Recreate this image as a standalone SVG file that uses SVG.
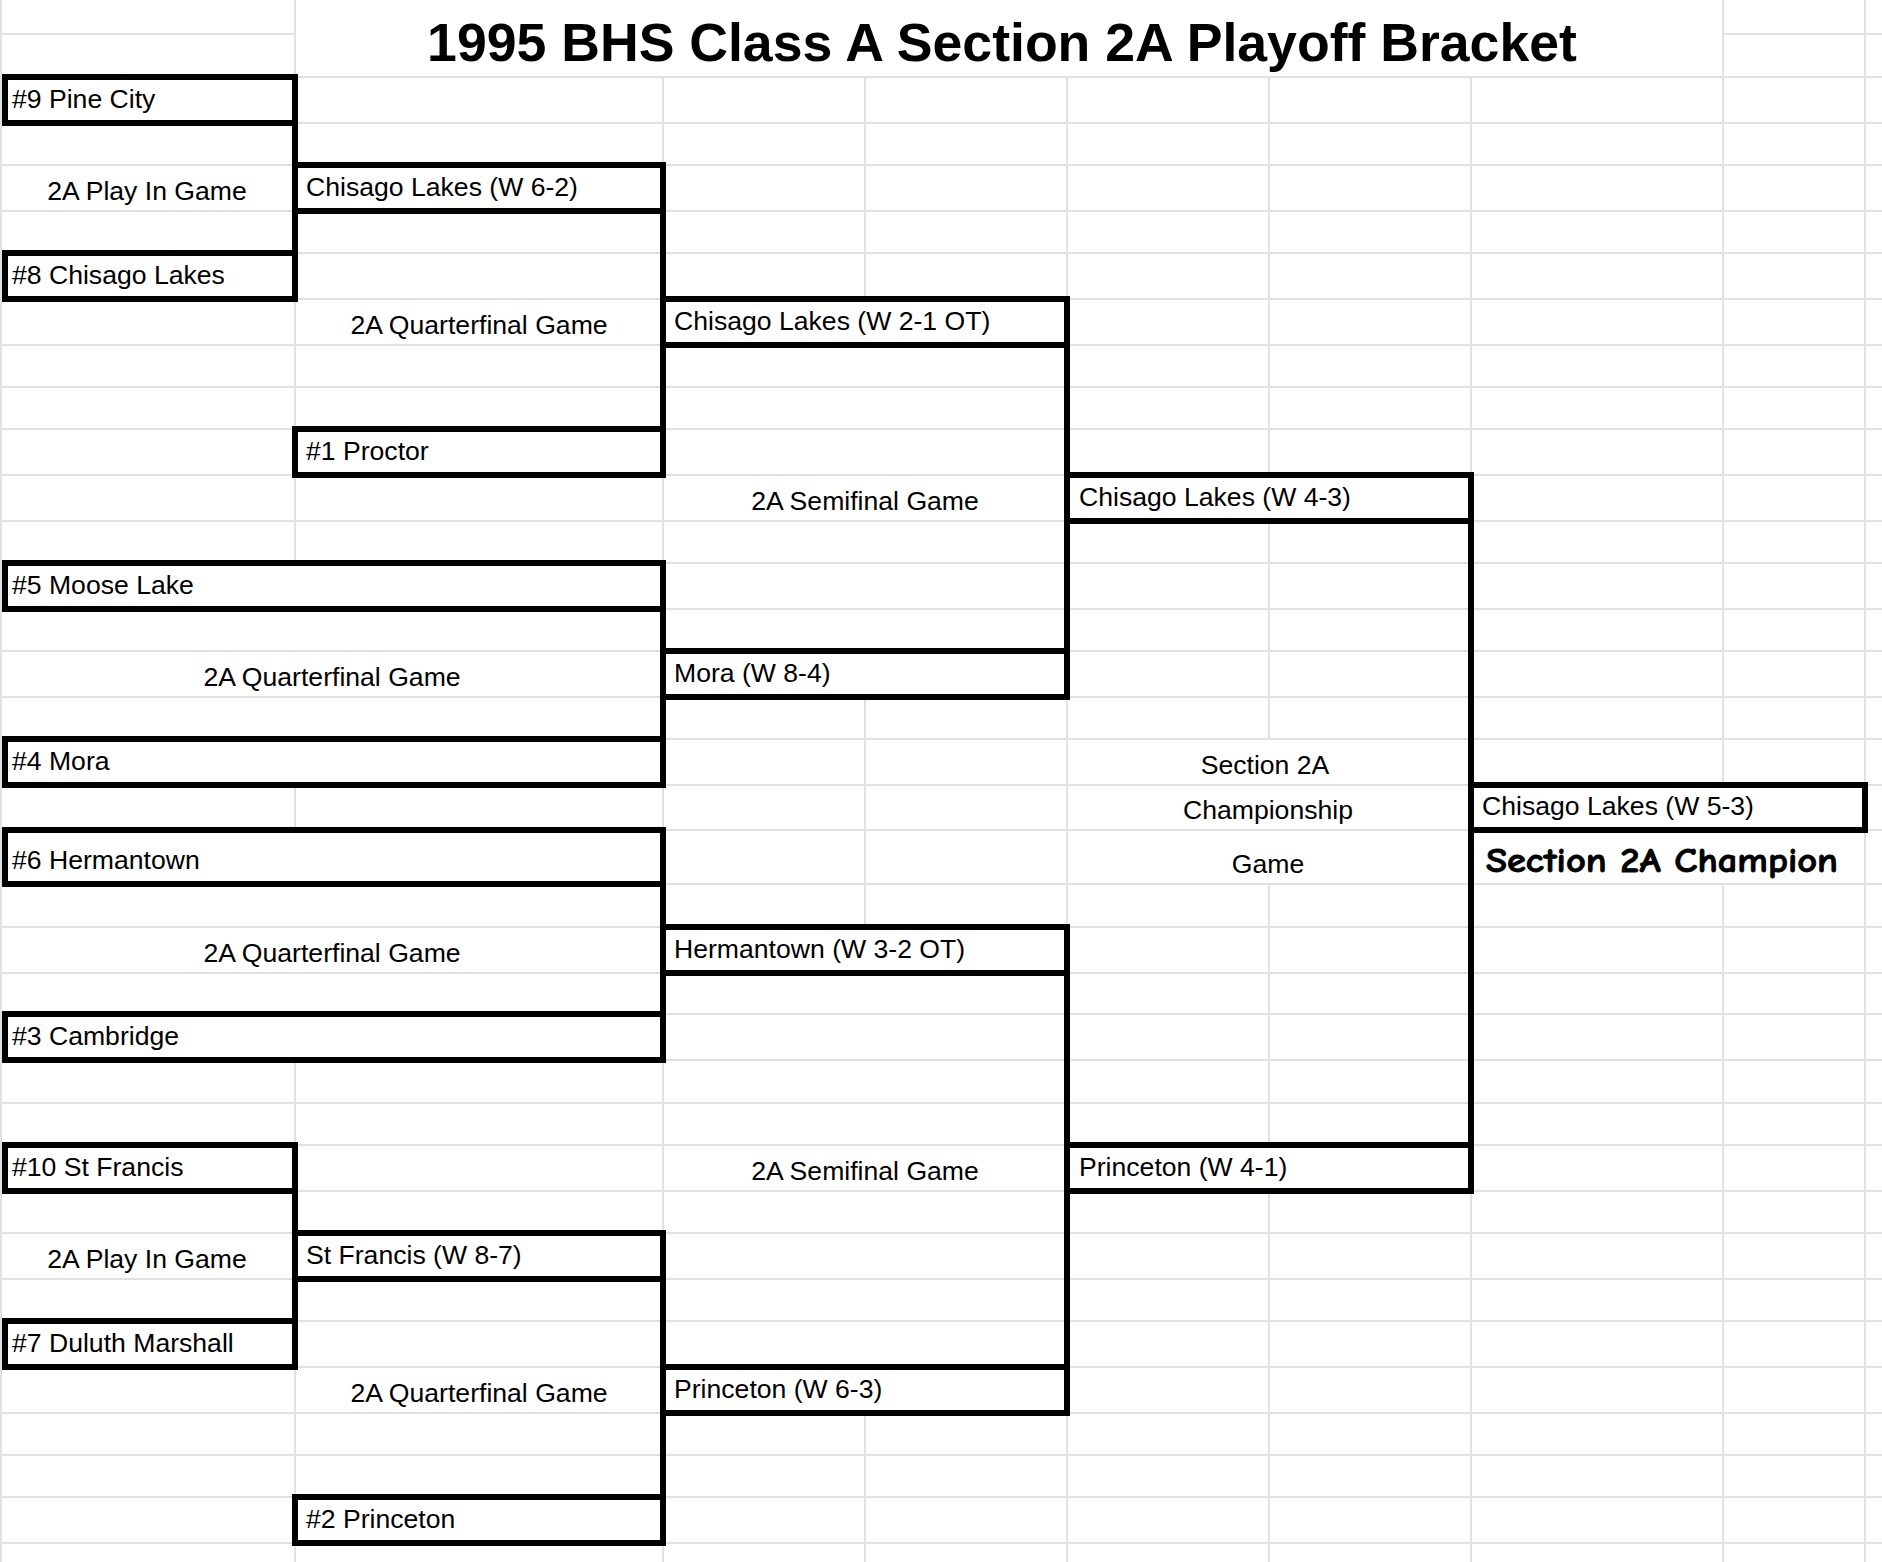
<svg xmlns="http://www.w3.org/2000/svg" width="1882" height="1562" viewBox="0 0 1882 1562">
<style>
.grid{stroke:#e1e1e1;stroke-width:2;fill:none}
.box{fill:none;stroke:#000;stroke-width:6}
.con{fill:none;stroke:#000;stroke-width:6}
.t{font-family:"Liberation Sans",Arial,Helvetica,sans-serif;font-size:26.6px;fill:#000}
.c{text-anchor:middle}
.title{font-family:"Liberation Sans",Arial,Helvetica,sans-serif;font-size:53.6px;font-weight:bold;fill:#000;text-anchor:middle}
.champ{font-family:"Comic Sans MS","Comic Neue","DejaVu Sans",sans-serif;font-size:34px;font-weight:bold;fill:#000;stroke:#000;stroke-width:0.8}
</style>
<rect width="1882" height="1562" fill="#fff"/>
<g id="grid">
<path class="grid" d="M0 34H295M1723 34H1882M0 77H1882M0 123H1882M0 165H1882M0 211H1882M0 253H1882M0 299H1882M0 345H1882M0 387H1882M0 429H1882M0 475H1882M0 521H1882M0 563H1882M0 609H1882M0 651H1882M0 697H1882M0 739H1882M0 785H1882M0 830H1882M0 884H1882M0 927H1882M0 973H1882M0 1014H1882M0 1060H1882M0 1103H1882M0 1145H1882M0 1191H1882M0 1233H1882M0 1279H1882M0 1321H1882M0 1367H1882M0 1413H1882M0 1455H1882M0 1497H1882M0 1543H1882"/>
<path class="grid" d="M1 0V1562M295 0V77M295 299V563M295 785V830M295 1060V1145M295 1367V1562M663 77V165M663 475V563M663 785V830M663 1060V1233M663 1543V1562M865 77V299M865 697V927M865 1413V1562M1067 77V299M1067 697V927M1067 1413V1562M1269 77V475M1269 521V739M1269 884V1145M1269 1191V1562M1471 77V475M1471 1191V1562M1723 0V785M1723 884V1562M1865 0V1562"/>
</g>
<g id="title"><text class="title" x="1002" y="61">1995 BHS Class A Section 2A Playoff Bracket</text></g>
<g id="connectors">
<path class="con" d="M295 123V253M663 211V429M663 609V739M1067 345V651M663 884V1014M295 1191V1321M663 1279V1497M1067 973V1367M1471 521V1145"/>
</g>
<g id="n-pinecity"><rect class="box" x="5" y="77" width="290" height="46"/><text class="t" x="12" y="107.5">#9 Pine City</text></g>
<g id="n-chisago8"><rect class="box" x="5" y="253" width="290" height="46"/><text class="t" x="12" y="283.5">#8 Chisago Lakes</text></g>
<g id="n-chisago-w62"><rect class="box" x="295" y="165" width="368" height="46"/><text class="t" x="306" y="195.5">Chisago Lakes (W 6-2)</text></g>
<g id="n-proctor"><rect class="box" x="295" y="429" width="368" height="46"/><text class="t" x="306" y="459.5">#1 Proctor</text></g>
<g id="n-chisago-w21"><rect class="box" x="663" y="299" width="404" height="46"/><text class="t" x="674" y="329.5">Chisago Lakes (W 2-1 OT)</text></g>
<g id="n-mooselake"><rect class="box" x="5" y="563" width="658" height="46"/><text class="t" x="12" y="593.5">#5 Moose Lake</text></g>
<g id="n-mora4"><rect class="box" x="5" y="739" width="658" height="46"/><text class="t" x="12" y="769.5">#4 Mora</text></g>
<g id="n-mora-w84"><rect class="box" x="663" y="651" width="404" height="46"/><text class="t" x="674" y="681.5">Mora (W 8-4)</text></g>
<g id="n-chisago-w43"><rect class="box" x="1067" y="475" width="404" height="46"/><text class="t" x="1079" y="505.5">Chisago Lakes (W 4-3)</text></g>
<g id="n-hermantown6"><rect class="box" x="5" y="830" width="658" height="54"/><text class="t" x="12" y="868.5">#6 Hermantown</text></g>
<g id="n-cambridge"><rect class="box" x="5" y="1014" width="658" height="46"/><text class="t" x="12" y="1044.5">#3 Cambridge</text></g>
<g id="n-hermantown-w32"><rect class="box" x="663" y="927" width="404" height="46"/><text class="t" x="674" y="957.5">Hermantown (W 3-2 OT)</text></g>
<g id="n-stfrancis10"><rect class="box" x="5" y="1145" width="290" height="46"/><text class="t" x="12" y="1175.5">#10 St Francis</text></g>
<g id="n-duluth"><rect class="box" x="5" y="1321" width="290" height="46"/><text class="t" x="12" y="1351.5">#7 Duluth Marshall</text></g>
<g id="n-stfrancis-w87"><rect class="box" x="295" y="1233" width="368" height="46"/><text class="t" x="306" y="1263.5">St Francis (W 8-7)</text></g>
<g id="n-princeton2"><rect class="box" x="295" y="1497" width="368" height="46"/><text class="t" x="306" y="1527.5">#2 Princeton</text></g>
<g id="n-princeton-w63"><rect class="box" x="663" y="1367" width="404" height="46"/><text class="t" x="674" y="1397.5">Princeton (W 6-3)</text></g>
<g id="n-princeton-w41"><rect class="box" x="1067" y="1145" width="404" height="46"/><text class="t" x="1079" y="1175.5">Princeton (W 4-1)</text></g>
<g id="n-champion"><rect class="box" x="1471" y="785" width="394" height="45"/><text class="t" x="1482" y="814.5">Chisago Lakes (W 5-3)</text>
<text class="champ" x="1486" y="872" textLength="352" lengthAdjust="spacingAndGlyphs">Section 2A Champion</text></g>
<g id="labels">
<text class="t c" x="147" y="199.5">2A Play In Game</text>
<text class="t c" x="479" y="333.5">2A Quarterfinal Game</text>
<text class="t c" x="865" y="509.5">2A Semifinal Game</text>
<text class="t c" x="332" y="685.5">2A Quarterfinal Game</text>
<text class="t c" x="1265" y="773.5">Section 2A</text>
<text class="t c" x="1268" y="818.5">Championship</text>
<text class="t c" x="1268" y="872.5">Game</text>
<text class="t c" x="332" y="961.5">2A Quarterfinal Game</text>
<text class="t c" x="865" y="1179.5">2A Semifinal Game</text>
<text class="t c" x="147" y="1267.5">2A Play In Game</text>
<text class="t c" x="479" y="1401.5">2A Quarterfinal Game</text>
</g>
</svg>
